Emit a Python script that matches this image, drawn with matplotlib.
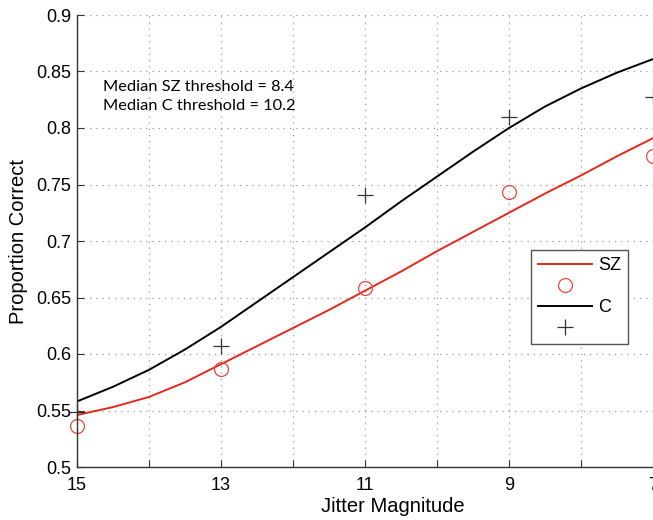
import matplotlib.pyplot as plt
from matplotlib.lines import Line2D

# observed points
jitter = [15, 13, 11, 9, 7]
sz_prop = [0.536, 0.587, 0.658, 0.743, 0.775]
c_prop = [0.549, 0.607, 0.741, 0.810, 0.827]

# fitted curves, every half unit
fit_x = [15, 14.5, 14, 13.5, 13, 12.5, 12, 11.5, 11, 10.5, 10, 9.5, 9, 8.5, 8, 7.5, 7]
sz_fit = [0.546, 0.553, 0.562, 0.575, 0.591, 0.607, 0.623, 0.639, 0.656, 0.673,
          0.691, 0.708, 0.725, 0.742, 0.758, 0.775, 0.791]
c_fit = [0.558, 0.571, 0.586, 0.604, 0.624, 0.646, 0.668, 0.690, 0.712, 0.735,
         0.757, 0.779, 0.800, 0.819, 0.835, 0.849, 0.861]

notes = ['Median SZ threshold = 8.4', 'Median C threshold = 10.2']

RED = '#e2291c'
plt.rcParams['font.family'] = ['Liberation Sans', 'DejaVu Sans']

fig = plt.figure(figsize=(6.53, 5.20), dpi=100)
ax = fig.add_axes([77 / 653, 53 / 520, 576 / 653, 452 / 520])

ax.plot(fit_x, sz_fit, color=RED, lw=1.4)
ax.plot(jitter, sz_prop, ls='none', marker='o', ms=10, mfc='none', mec='#e04a3c',
        mew=0.9, clip_on=False)
ax.plot(fit_x, c_fit, color='black', lw=1.4)
ax.plot(jitter, c_prop, ls='none', marker='+', ms=11, color='#333333', mew=0.9,
        clip_on=False)

ax.set_xlim(15, 7)
ax.set_ylim(0.5, 0.9)
ax.set_xticks(range(7, 16))
ax.set_xticklabels([str(v) if v % 2 else '' for v in range(7, 16)])
yt = [0.5 + 0.05 * i for i in range(9)]
ax.set_yticks(yt)
ax.set_yticklabels(['%g' % round(v, 2) for v in yt])
ax.tick_params(direction='in', length=5, width=0.8, color='#333333', labelsize=13)
ax.tick_params(axis='x', pad=7)
ax.tick_params(axis='y', pad=4)
ax.grid(True, color='#9a9a9a', ls=(0, (1, 4)), lw=0.9)
for s in ['top', 'right']:
    ax.spines[s].set_visible(False)
for s in ['left', 'bottom']:
    ax.spines[s].set_color('#333333')
    ax.spines[s].set_linewidth(1.0)

ax.set_xlabel('Jitter Magnitude', fontsize=14.5)
ax.xaxis.set_label_coords((393 - 77) / 576, -0.066)
ax.set_ylabel('Proportion Correct', fontsize=14.5, labelpad=6)

ax.text(14.64, 0.8425, notes[0] + '\n' + notes[1], fontsize=11.8, va='top', ha='left',
        family=['Lato', 'DejaVu Sans'], linespacing=1.45)

handles = [Line2D([], [], color=RED, lw=1.4),
           Line2D([], [], ls='none', marker='o', ms=10, mfc='none', mec='#e04a3c', mew=0.9),
           Line2D([], [], color='black', lw=1.4),
           Line2D([], [], ls='none', marker='+', ms=11, color='#333333', mew=0.9)]
leg = fig.legend(handles, ['SZ', '', 'C', ''], loc='upper left',
                 bbox_to_anchor=(531 / 653, 1 - 250 / 520), fontsize=13,
                 handlelength=3.0, handletextpad=0.3, labelspacing=0.22,
                 borderpad=0.4, borderaxespad=0, fancybox=False, framealpha=1)
leg.get_frame().set_edgecolor('#555555')
leg.get_frame().set_linewidth(1.0)

fig.savefig('out.png', dpi=100)
